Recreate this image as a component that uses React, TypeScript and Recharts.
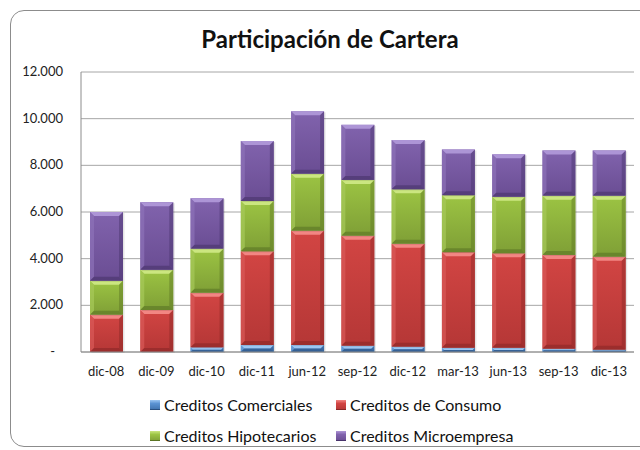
import React from "react";
import { BarChart, Bar, XAxis, YAxis, CartesianGrid } from "recharts";

const categories = ["dic-08", "dic-09", "dic-10", "dic-11", "jun-12", "sep-12", "dic-12", "mar-13", "jun-13", "sep-13", "dic-13"];
const comerciales = [0, 0, 200, 300, 300, 270, 230, 180, 180, 140, 100];
const consumo = [1600, 1800, 2340, 4015, 4900, 4715, 4410, 4100, 4050, 4020, 3985];
const hipotecarios = [1450, 1720, 1890, 2155, 2440, 2390, 2330, 2440, 2420, 2540, 2615];
const microempresa = [2950, 2900, 2160, 2570, 2675, 2360, 2115, 1960, 1820, 1940, 1940];
const yTicks = [0, 2000, 4000, 6000, 8000, 10000, 12000];

const data = categories.map((c, i) => ({
  cat: c,
  com: comerciales[i],
  con: consumo[i],
  hip: hipotecarios[i],
  mic: microempresa[i],
}));

const palette: Record<string, { top: string; bottom: string; light: string; side: string; dark: string; name: string }> = {
  com: { top: "#5b93d3", bottom: "#3f72ad", light: "#9cc6f2", side: "#6ea2dc", dark: "#2a5080", name: "Creditos Comerciales" },
  con: { top: "#d24543", bottom: "#b53736", light: "#f28683", side: "#d85a58", dark: "#8a2726", name: "Creditos de Consumo" },
  hip: { top: "#9cc443", bottom: "#7f9f36", light: "#cbe680", side: "#a6c95a", dark: "#5a7424", name: "Creditos Hipotecarios" },
  mic: { top: "#8163ad", bottom: "#6a4d93", light: "#ad95d6", side: "#8d72b8", dark: "#48336b", name: "Creditos Microempresa" },
};

const makeShape = (key: string) => (props: any) => {
  const { x, y, width, height } = props;
  if (!height || height <= 0.5) return null;
  const p = palette[key];
  const b = Math.min(4, height / 2);
  const w = width;
  const h = height;
  return (
    <g>
      <rect x={x + 1.5} y={y + 1} width={w} height={h} fill="#000" opacity={0.1} />
      <rect x={x} y={y} width={w} height={h} fill={`url(#g-${key})`} />
      <polygon points={`${x},${y} ${x + w},${y} ${x + w - b},${y + b} ${x + b},${y + b}`} fill={p.light} />
      <polygon points={`${x},${y} ${x + b},${y + b} ${x + b},${y + h - b} ${x},${y + h}`} fill={p.side} opacity={0.7} />
      <polygon points={`${x + w},${y} ${x + w - b},${y + b} ${x + w - b},${y + h - b} ${x + w},${y + h}`} fill={p.dark} opacity={0.45} />
      <polygon points={`${x},${y + h} ${x + b},${y + h - b} ${x + w - b},${y + h - b} ${x + w},${y + h}`} fill={p.dark} opacity={0.6} />
    </g>
  );
};

const YTick = (props: any) => {
  const { x, y, payload } = props;
  const v = payload.value as number;
  const txt = v === 0 ? "-" : (v / 1000).toFixed(3);
  return (
    <text x={v === 0 ? x - 18 : x - 10} y={y} dy={4} textAnchor="end" fontSize={13} fill="#222" fontFamily="Lato, 'Open Sans', sans-serif">
      {txt}
    </text>
  );
};

const LegendItem = ({ k }: { k: string }) => {
  const p = palette[k];
  return (
    <div style={{ display: "flex", alignItems: "center", width: 186 }}>
      <div
        style={{
          width: 10,
          height: 10,
          marginRight: 4,
          background: `linear-gradient(${p.light} 0%, ${p.top} 35%, ${p.bottom} 100%)`,
          boxShadow: `inset 0 -1px 0 ${p.dark}`,
        }}
      />
      <span>{p.name}</span>
    </div>
  );
};

export default function App() {
  return (
    <div style={{ position: "absolute", left: 0, top: 0, width: 640, height: 450, background: "#fff", overflow: "hidden", fontFamily: "Lato, 'Open Sans', sans-serif" }}>
      <div style={{ position: "absolute", left: 10, top: 10, width: 660, height: 437, border: "1px solid #8c8c8c", borderRadius: 14, boxSizing: "border-box" }} />
      <div style={{ position: "absolute", left: 0, width: 660, top: 24, textAlign: "center", fontSize: 24, fontWeight: "bold", color: "#111" }}>
        Participación de Cartera
      </div>
      <div style={{ position: "absolute", left: 0, top: 0 }}>
        <BarChart width={640} height={450} data={data} margin={{ top: 72, right: 6, bottom: 68, left: 0 }} barSize={33}>
          <defs>
            {Object.keys(palette).map((k) => (
              <linearGradient key={k} id={`g-${k}`} x1="0" y1="0" x2="0" y2="1">
                <stop offset="0%" stopColor={palette[k].top} />
                <stop offset="100%" stopColor={palette[k].bottom} />
              </linearGradient>
            ))}
          </defs>
          <CartesianGrid vertical={false} stroke="#a6a6a6" />
          <XAxis
            dataKey="cat"
            height={30}
            tickLine={false}
            axisLine={{ stroke: "#8c8c8c" }}
            tick={{ fontSize: 13, fill: "#222", fontFamily: "Lato, 'Open Sans', sans-serif" }}
            dy={7}
            interval={0}
          />
          <YAxis
            width={81}
            domain={[0, 12000]}
            ticks={yTicks}
            tickLine={false}
            axisLine={{ stroke: "#8c8c8c" }}
            tick={<YTick />}
          />
          <Bar dataKey="com" stackId="a" isAnimationActive={false} shape={makeShape("com")} />
          <Bar dataKey="con" stackId="a" isAnimationActive={false} shape={makeShape("con")} />
          <Bar dataKey="hip" stackId="a" isAnimationActive={false} shape={makeShape("hip")} />
          <Bar dataKey="mic" stackId="a" isAnimationActive={false} shape={makeShape("mic")} />
        </BarChart>
      </div>
      <div style={{ position: "absolute", left: 150, top: 394, fontSize: 16, color: "#111", lineHeight: "21px" }}>
        <div style={{ display: "flex" }}>
          <LegendItem k="com" />
          <LegendItem k="con" />
        </div>
        <div style={{ display: "flex", marginTop: 10 }}>
          <LegendItem k="hip" />
          <LegendItem k="mic" />
        </div>
      </div>
    </div>
  );
}
